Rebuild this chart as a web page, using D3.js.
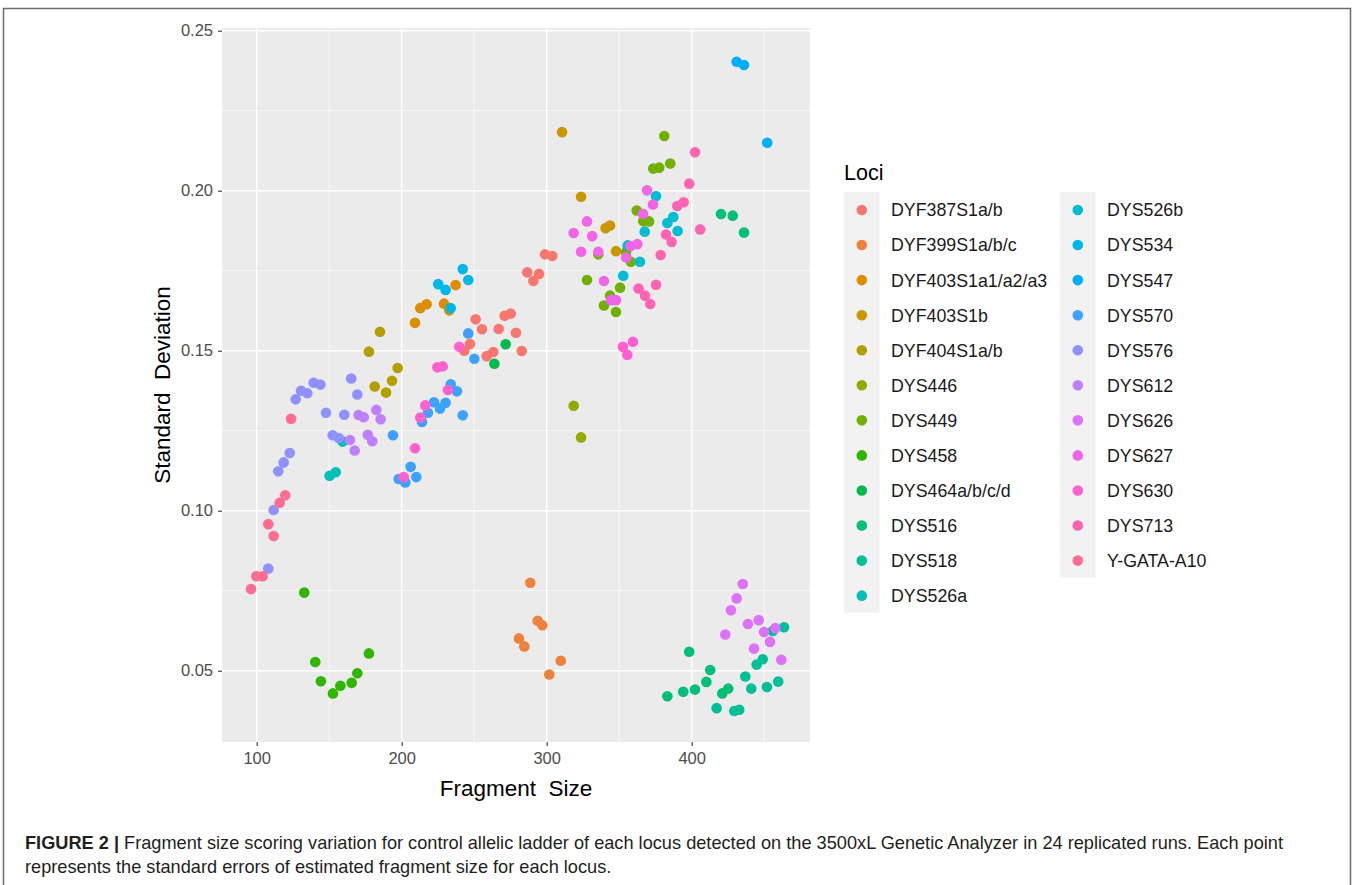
<!DOCTYPE html>
<html><head><meta charset="utf-8">
<script src="https://cdn.jsdelivr.net/npm/d3@7"></script>
<style>body{margin:0;background:#fff}svg{display:block}</style>
</head><body>
<svg id="chart" width="1355" height="885"></svg>
<script>
// ---------------- DATA ----------------
const loci = ["DYF387S1a/b","DYF399S1a/b/c","DYF403S1a1/a2/a3","DYF403S1b","DYF404S1a/b",
  "DYS446","DYS449","DYS458","DYS464a/b/c/d","DYS516","DYS518","DYS526a","DYS526b",
  "DYS534","DYS547","DYS570","DYS576","DYS612","DYS626","DYS627","DYS630","DYS713","Y-GATA-A10"];

// [fragment size, standard deviation]
const dyf387 = [[298.8,.1801],[303.9,.1796],[286.6,.1745],[294.7,.1740],[290.8,.1718],[251.0,.1598],[255.4,.1567],[266.9,.1568],[271.0,.1609],[275.2,.1616],[278.8,.1556],[282.8,.1499],[247.1,.1521],[243.2,.1500],[258.6,.1483],[263.2,.1496]];
const dyf399 = [[288.7,.0775],[293.8,.0656],[297.0,.0642],[280.9,.0601],[284.6,.0576],[309.7,.0531],[301.8,.0488]];
const dyf403a = [[209.2,.1587],[212.8,.1633],[217.2,.1645],[229.2,.1647],[232.8,.1626],[237.2,.1705]];
const dyf403b = [[310.6,.2183],[323.7,.1981],[340.6,.1883],[343.7,.1891],[347.8,.1811]];
const dyf404 = [[177.4,.1497],[185.0,.1559],[197.2,.1446],[181.4,.1388],[193.3,.1406],[189.2,.1369]];
const dys446 = [[318.6,.1328],[323.7,.1229]];
const dys449 = [[362.1,.1938],[381.1,.2171],[373.5,.2069],[377.6,.2072],[385.2,.2085],[366.6,.1905],[370.6,.1904],[335.6,.1801],[354.7,.1808],[358.1,.1778],[327.8,.1721],[350.6,.1697],[343.7,.1672],[339.5,.1641],[347.8,.1621]];
const dys458 = [[132.8,.0744],[140.4,.0527],[144.3,.0467],[152.6,.0429],[157.7,.0453],[165.5,.0462],[169.4,.0492],[177.4,.0554]];
const dys464 = [[271.7,.1520],[263.9,.1459]];
const dys516 = [[420.2,.1927],[428.3,.1922],[436.1,.1869],[398.3,.0559],[412.8,.0502],[410.1,.0465],[402.3,.0441],[394.2,.0434],[383.2,.0420],[421.1,.0429],[425.2,.0444]];
const dys518 = [[417.2,.0383],[429.4,.0374],[432.8,.0378],[437.0,.0482],[441.1,.0444],[444.8,.0519],[449.0,.0536],[451.9,.0449],[459.7,.0466],[455.9,.0624],[463.7,.0636]];
const dys526a = [[159.3,.1216],[150.3,.1109],[154.5,.1120]];
const dys526b = [[375.4,.1983],[387.3,.1918],[383.2,.1899],[390.3,.1874],[367.6,.1872],[355.9,.1829],[364.3,.1778],[352.8,.1734]];
const dys534 = [[225.2,.1708],[230.3,.1690],[242.1,.1755],[245.9,.1721],[233.8,.1633]];
const dys547 = [[431.0,.2403],[436.1,.2393],[452.1,.2150]];
const dys570 = [[245.9,.1554],[250.1,.1475],[233.8,.1395],[238.1,.1373],[222.3,.1339],[230.3,.1337],[226.4,.1319],[218.1,.1306],[214.0,.1277],[242.1,.1298],[194.0,.1236],[206.2,.1137],[197.9,.1099],[202.5,.1088],[210.1,.1105]];
const dys576 = [[165.2,.1413],[169.4,.1363],[139.3,.1400],[143.9,.1394],[130.6,.1375],[134.9,.1367],[126.9,.1348],[147.8,.1306],[160.4,.1300],[152.4,.1236],[156.6,.1227],[122.8,.1180],[118.6,.1151],[114.9,.1123],[111.7,.1002],[108.0,.0819]];
const dys612 = [[170.3,.1299],[173.8,.1292],[182.5,.1315],[185.5,.1286],[164.3,.1221],[167.6,.1188],[176.6,.1237],[179.7,.1217]];
const dys626 = [[435.2,.0771],[431.0,.0726],[427.1,.0689],[438.8,.0646],[446.2,.0658],[449.9,.0621],[457.7,.0633],[454.0,.0590],[423.2,.0613],[443.0,.0569],[461.8,.0534]];
const dys627 = [[327.8,.1904],[318.6,.1868],[331.4,.1858],[369.2,.2001],[373.3,.1957],[366.4,.1928],[323.7,.1809],[335.6,.1809],[354.9,.1791],[357.9,.1827],[362.5,.1833],[339.5,.1718],[344.3,.1658],[347.8,.1658]];
const dys630 = [[239.7,.1512],[224.6,.1448],[228.3,.1451],[231.9,.1377],[216.3,.1329],[212.8,.1291],[209.2,.1195],[201.4,.1105],[352.6,.1512],[359.5,.1528],[355.6,.1487]];
const dys713 = [[402.3,.2120],[398.3,.2022],[390.1,.1952],[394.5,.1964],[405.9,.1879],[382.3,.1863],[386.2,.1840],[378.6,.1799],[363.4,.1694],[367.8,.1672],[371.4,.1646],[375.4,.1706]];
const ygata = [[123.7,.1287],[119.7,.1048],[115.9,.1025],[108.0,.0958],[111.7,.0921],[99.7,.0795],[104.1,.0795],[96.1,.0755]];

const xTicks = [100,200,300,400];
const yTicks = [0.05,0.10,0.15,0.20,0.25];
const xMinor = [150,250,350,450];
const yMinor = [0.075,0.125,0.175,0.225];

const seriesList = [dyf387,dyf399,dyf403a,dyf403b,dyf404,dys446,dys449,dys458,dys464,dys516,dys518,
  dys526a,dys526b,dys534,dys547,dys570,dys576,dys612,dys626,dys627,dys630,dys713,ygata];

// ---------------- COLOURS (ggplot2 hue_pal, polar LUV) ----------------
function ggHcl(h, c, l){
  const WU=0.1978398, WV=0.4683363, WY=100;
  const hr=h*Math.PI/180, U=c*Math.cos(hr), V=c*Math.sin(hr);
  const Y=WY*(l>7.999592?Math.pow((l+16)/116,3):l/903.3);
  const u=U/(13*l)+WU, v=V/(13*l)+WV;
  const X=9*Y*u/(4*v), Z=-X/3-5*Y+3*Y/v;
  const g=t=>{t/=WY; return t>0.00304?1.055*Math.pow(t,1/2.4)-0.055:12.92*t;};
  const cl=t=>Math.max(0,Math.min(255,Math.round(255*t)));
  return d3.rgb(cl(g(3.240479*X-1.537150*Y-0.498535*Z)),cl(g(-0.969256*X+1.875992*Y+0.041556*Z)),cl(g(0.055648*X-0.204043*Y+1.057311*Z))).formatHex();
}
const n = loci.length;
const colors = loci.map((_,i)=>ggHcl((15+i*(360-360/n)/(n-1))%360,100,65));
const color = d3.scaleOrdinal().domain(loci).range(colors);

// ---------------- LAYOUT ----------------
const svg = d3.select("#chart");
const P = {l:222, r:810, t:28, b:742};
const x = d3.scaleLinear().domain([76.07, 481.6]).range([P.l, P.r]);
const y = d3.scaleLinear().domain([0.02772, 0.25084]).range([P.b, P.t]);
const FONT = "'Liberation Sans', Arial, sans-serif";

// frame
svg.append("path").attr("d","M3.5,885 V8.5 H1350.5 V885").attr("fill","none").attr("stroke","#6d6d6d").attr("stroke-width",1.5);

// panel
svg.append("rect").attr("x",P.l).attr("y",P.t).attr("width",P.r-P.l).attr("height",P.b-P.t).attr("fill","#EBEBEB");
const grid = svg.append("g");
grid.selectAll(".xm").data(xMinor).join("line").attr("x1",d=>x(d)).attr("x2",d=>x(d)).attr("y1",P.t).attr("y2",P.b).attr("stroke","#fff").attr("stroke-width",0.7);
grid.selectAll(".ym").data(yMinor).join("line").attr("y1",d=>y(d)).attr("y2",d=>y(d)).attr("x1",P.l).attr("x2",P.r).attr("stroke","#fff").attr("stroke-width",0.7);
grid.selectAll(".xM").data(xTicks).join("line").attr("x1",d=>x(d)).attr("x2",d=>x(d)).attr("y1",P.t).attr("y2",P.b).attr("stroke","#fff").attr("stroke-width",1.4);
grid.selectAll(".yM").data(yTicks).join("line").attr("y1",d=>y(d)).attr("y2",d=>y(d)).attr("x1",P.l).attr("x2",P.r).attr("stroke","#fff").attr("stroke-width",1.4);

// points
const pts = [];
seriesList.forEach((s,i)=>s.forEach(p=>pts.push({locus:loci[i], size:p[0], sd:p[1]})));
svg.append("g").selectAll("circle").data(pts).join("circle")
  .attr("cx",d=>x(d.size)).attr("cy",d=>y(d.sd)).attr("r",5.3).attr("fill",d=>color(d.locus));

// axes
const ax = svg.append("g").attr("transform",`translate(0,${P.b})`)
  .call(d3.axisBottom(x).tickValues(xTicks).tickSize(4).tickPadding(6).tickFormat(d3.format("d")));
const ay = svg.append("g").attr("transform",`translate(${P.l},0)`)
  .call(d3.axisLeft(y).tickValues(yTicks).tickSize(4).tickPadding(5).tickFormat(d3.format(".2f")));
[ax,ay].forEach(a=>{
  a.select(".domain").remove();
  a.selectAll(".tick line").attr("stroke","#333").attr("stroke-width",1.1);
  a.selectAll(".tick text").attr("fill","#4D4D4D").style("font-family",FONT).style("font-size","16.5px");
});

// axis titles
svg.append("text").attr("x",(P.l+P.r)/2).attr("y",796).attr("text-anchor","middle")
  .style("font-family",FONT).style("font-size","22.5px").attr("fill","#000").text("Fragment\u00a0\u00a0Size");
svg.append("text").attr("transform",`translate(170,${(P.t+P.b)/2}) rotate(-90)`).attr("text-anchor","middle")
  .style("font-family",FONT).style("font-size","22.5px").attr("fill","#000").text("Standard\u00a0\u00a0Deviation");

// legend
const lg = svg.append("g");
lg.append("text").attr("x",844).attr("y",180).style("font-family",FONT).style("font-size","21.5px").attr("fill","#000").text("Loci");
const perCol = 12, rowH = 35.06;
const colX = [844, 1060];
[0,1].forEach(c=>{
  const cnt = c===0?perCol:n-perCol;
  lg.append("rect").attr("x",colX[c]).attr("y",192).attr("width",35.5).attr("height",cnt*rowH).attr("fill","#F2F2F2");
});
lg.selectAll(".key").data(loci).join("g").attr("transform",(d,i)=>{
  const c = i<perCol?0:1, r = i<perCol?i:i-perCol;
  return `translate(${colX[c]},${210+r*rowH})`;
}).each(function(d){
  const g = d3.select(this);
  g.append("circle").attr("cx",17.8).attr("cy",0).attr("r",5.3).attr("fill",color(d));
  g.append("text").attr("x",47).attr("y",6.4).style("font-family",FONT).style("font-size","17.8px").attr("fill","#1a1a1a").text(d);
});

// caption
const cap = svg.append("text").style("font-family",FONT).style("font-size","18.2px").attr("fill","#231F20");
const l1 = cap.append("tspan").attr("x",25).attr("y",849);
l1.append("tspan").style("font-weight","bold").text("FIGURE 2 | ");
l1.append("tspan").text("Fragment size scoring variation for control allelic ladder of each locus detected on the 3500xL Genetic Analyzer in 24 replicated runs. Each point");
cap.append("tspan").attr("x",25).attr("y",873).text("represents the standard errors of estimated fragment size for each locus.");
</script>
</body></html>
